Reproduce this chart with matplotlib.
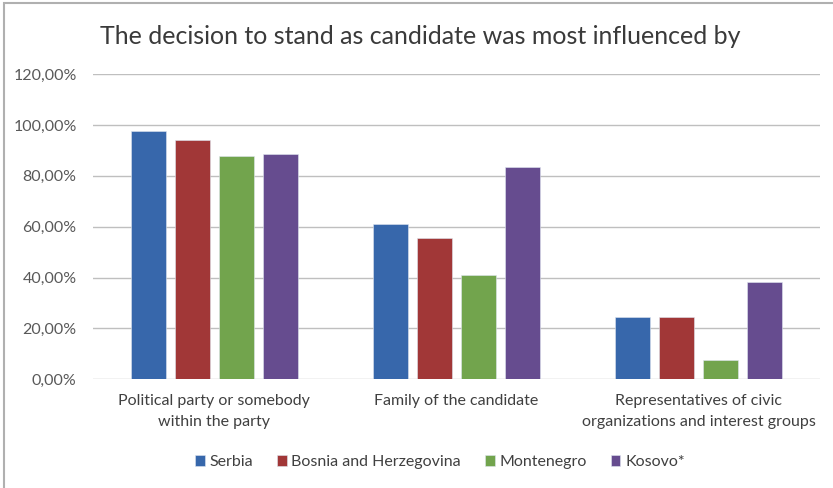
import numpy as np
import matplotlib.pyplot as plt
from matplotlib.patches import Rectangle

plt.rcParams['font.family'] = ['Lato', 'DejaVu Sans']

# share of candidates naming each source of influence (%)
categories = ["Political party or somebody\nwithin the party",
              "Family of the candidate",
              "Representatives of civic\norganizations and interest groups"]
countries = ["Serbia", "Bosnia and Herzegovina", "Montenegro", "Kosovo*"]
serbia = [97.5, 60.9, 24.6]
bosnia = [94.2, 55.7, 24.6]
montenegro = [88.0, 41.1, 7.5]
kosovo = [88.4, 83.5, 38.2]
yticks = [0, 20, 40, 60, 80, 100, 120]

series = [serbia, bosnia, montenegro, kosovo]
colors = ["#3767AB", "#A13737", "#72A44D", "#664C8F"]

fig = plt.figure(figsize=(8.33, 4.88), dpi=100)
ax = fig.add_axes([0.112, 0.223, 0.872, 0.625])

x = np.arange(len(categories))
pitch = 0.182
width = 0.145
for i, (vals, col, name) in enumerate(zip(series, colors, countries)):
    ax.bar(x + (i - 1.5) * pitch, vals, width, color=col, label=name,
           edgecolor="#dfe6f0", linewidth=0.4, zorder=3)

ax.set_xlim(-0.5, 2.5)
ax.set_ylim(0, 120)
ax.set_yticks(yticks)
ax.set_yticklabels([f"{v},00%" for v in yticks])
ax.yaxis.grid(True, color="#BFBFBF", linewidth=1, zorder=0)
ax.set_xticks(x)
ax.set_xticklabels(categories, fontsize=11.5, color="#404040", linespacing=1.6)
ax.tick_params(axis="y", length=0, pad=12, labelsize=11.5, labelcolor="#595959")
ax.tick_params(axis="x", length=0, pad=11)
for s in ax.spines.values():
    s.set_visible(False)

fig.text(0.505, 0.925, "The decision to stand as candidate was most influenced by",
         ha="center", va="center", fontsize=18, color="#3a3a3a")

fig.legend(loc="center", bbox_to_anchor=(0.528, 0.053), ncol=4, frameon=False,
           fontsize=11.5, handlelength=0.6, handleheight=0.6, handletextpad=0.3,
           columnspacing=1.5, labelcolor="#404040")

# chart frame (only the top and left edges fall inside the image)
fig.patches.append(Rectangle((0.005, -0.05), 1.1, 1.044,
                             transform=fig.transFigure, fill=False,
                             edgecolor="#b0b0b0", linewidth=1.5))

fig.savefig("out.png", dpi=100)
